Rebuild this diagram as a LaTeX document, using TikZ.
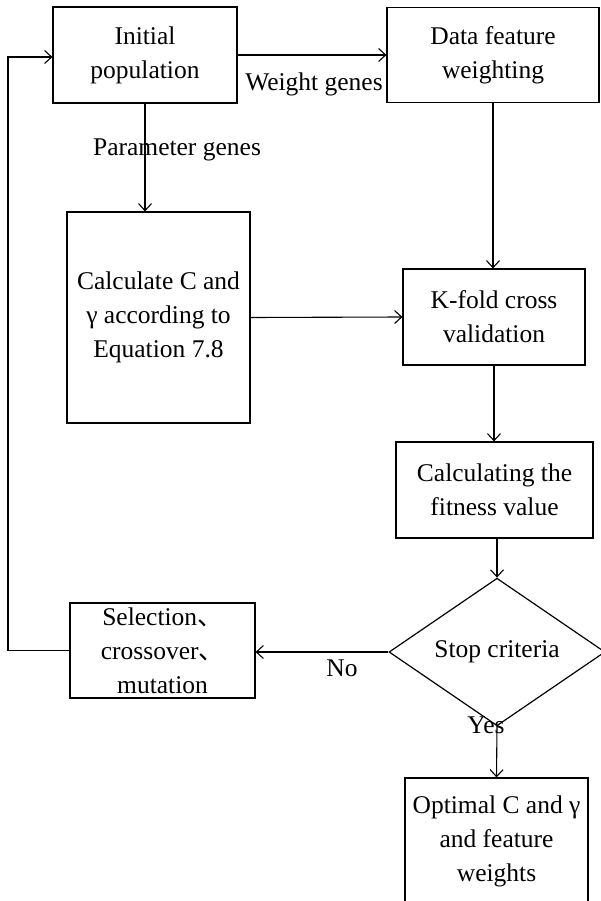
\documentclass[tikz,border=0pt]{standalone}
\usepackage{fontspec}
\setmainfont{Liberation Serif}
\newfontfamily\cjk{Noto Sans CJK SC}
\usetikzlibrary{arrows.meta,shapes.geometric}
\tikzset{
  box/.style={draw, line width=1.2pt, rectangle, inner sep=0pt, align=center, font=\fontsize{25.5}{34}\selectfont},
  dia/.style={draw, line width=1.2pt, diamond, inner sep=0pt, align=center, font=\fontsize{25.5}{34}\selectfont},
  lbl/.style={inner sep=0pt, font=\fontsize{25.5}{34}\selectfont},
  arr/.style={line width=1.1pt, -{Straight Barb[length=7pt,width=13pt]}},
  ln/.style={line width=1.1pt}
}
\begin{document}
\begin{tikzpicture}[x=1pt,y=-1pt]
\useasboundingbox (0,0) rectangle (600,901);
\node[box, minimum width=184pt, minimum height=96pt] (init) at (145,55) {Initial\\population};
\node[box, minimum width=212pt, minimum height=95pt] (dfw) at (493,55) {Data feature\\weighting};
\node[box, minimum width=183pt, minimum height=211pt] (calc) at (158.5,317.5) {Calculate C and\\γ according to\\Equation 7.8};
\node[box, minimum width=182pt, minimum height=96pt] (kfold) at (494,317) {K-fold cross\\validation};
\node[box, minimum width=197pt, minimum height=96pt] (fit) at (494.5,490) {Calculating the\\fitness value};
\node[dia, minimum width=216pt, minimum height=96pt] (stop) at (497,652) {Stop criteria};
\node[box, minimum width=185pt, minimum height=95pt] (sel) at (162.5,650.5) {Selection{\cjk 、}\\crossover{\cjk 、}\\ mutation};
\node[box, minimum width=183pt, minimum height=126pt] (opt) at (496.5,841) {Optimal C and γ\\and feature\\weights};
\coordinate (lp) at (8,0);
\node[lbl] (wg) at (314,84) {Weight genes};
\node[lbl] (pg) at (177,150) {Parameter genes};
\node[lbl] (no) at (342,668) {No};
\node[lbl] (yes) at (486,725) {Yes};
\draw[arr] (init.east) -- (dfw.west);
\draw[arr] (init.south) -- (init.south |- calc.north);
\draw[arr] (dfw.south) -- (dfw.south |- kfold.north);
\draw[arr] (calc.east) -- (kfold.west);
\draw[arr] (kfold.south) -- (kfold.south |- fit.north);
\draw[arr] (stop.north |- fit.south) -- (stop.north);
\draw[arr] (stop.west) -- (stop.west -| sel.east);
\draw[arr] (stop.south) -- (opt.north);
\draw[arr] (sel.west) -- (sel.west -| lp) -- ([yshift=-2pt]init.west -| lp) -- ([yshift=-2pt]init.west);
\end{tikzpicture}
\end{document}
